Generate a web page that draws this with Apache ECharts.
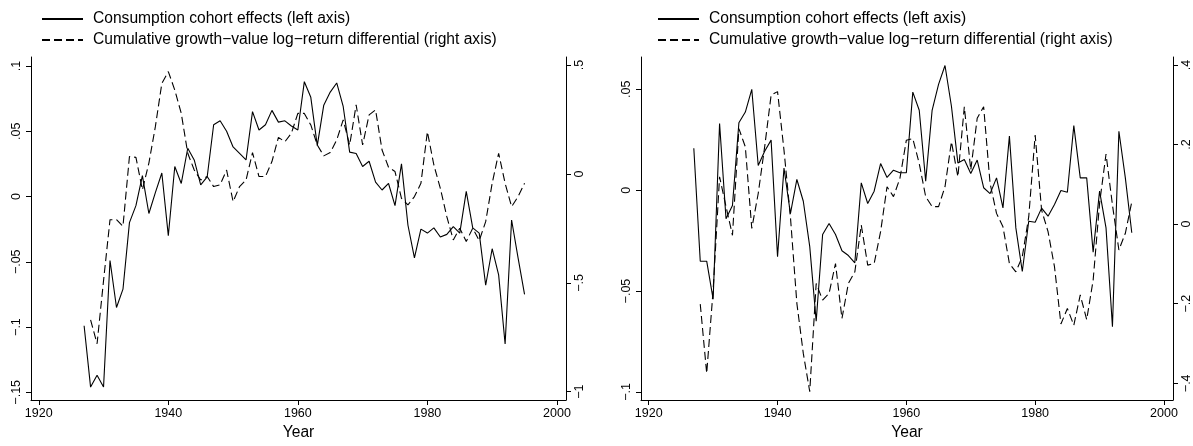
<!DOCTYPE html>
<html>
<head>
<meta charset="utf-8">
<script src="https://cdn.jsdelivr.net/npm/echarts@6/dist/echarts.min.js"></script>
<style>
html,body{margin:0;padding:0;background:#fff;}
#main{width:1193px;height:446px;}
</style>
</head>
<body>
<div id="main"></div>
<script>
// years 1927-1995
var years = [1927,1928,1929,1930,1931,1932,1933,1934,1935,1936,1937,1938,1939,1940,
  1941,1942,1943,1944,1945,1946,1947,1948,1949,1950,1951,1952,1953,1954,1955,1956,
  1957,1958,1959,1960,1961,1962,1963,1964,1965,1966,1967,1968,1969,1970,1971,1972,
  1973,1974,1975,1976,1977,1978,1979,1980,1981,1982,1983,1984,1985,1986,1987,1988,
  1989,1990,1991,1992,1993,1994,1995];

// left panel
var cohortA = [-0.099,-0.146,-0.137,-0.146,-0.049,-0.085,-0.071,-0.020,-0.007,0.016,
  -0.013,0.003,0.018,-0.030,0.023,0.010,0.037,0.028,0.009,0.015,0.055,0.058,0.050,
  0.038,0.033,0.028,0.065,0.051,0.055,0.066,0.057,0.058,0.054,0.051,0.088,0.076,
  0.039,0.070,0.080,0.087,0.069,0.034,0.033,0.023,0.027,0.011,0.005,0.010,-0.007,
  0.025,-0.022,-0.047,-0.025,-0.028,-0.024,-0.031,-0.029,-0.023,-0.028,0.004,-0.024,
  -0.028,-0.068,-0.040,-0.060,-0.113,-0.018,-0.047,-0.075];
var returnA = [null,-0.67,-0.78,-0.49,-0.21,-0.21,-0.24,0.08,0.076,-0.073,0.05,0.217,
  0.416,0.47,0.385,0.278,0.095,0.018,-0.028,-0.012,-0.058,-0.05,0.018,-0.127,-0.058,
  -0.028,0.098,-0.012,-0.012,0.057,0.168,0.148,0.187,0.278,0.278,0.225,0.133,0.083,
  0.098,0.156,0.248,0.133,0.317,0.133,0.271,0.294,0.110,0.031,0.011,-0.112,-0.142,
  -0.104,-0.043,0.194,0.041,-0.066,-0.196,-0.303,-0.249,-0.310,-0.249,-0.306,-0.219,
  -0.043,0.095,-0.043,-0.150,-0.104,-0.043];

// right panel
var cohortB = [0.0208,-0.0352,-0.0352,-0.054,0.033,-0.0142,-0.0076,0.0334,0.0387,0.050,
  0.0122,0.0193,0.0248,-0.033,0.011,-0.0116,0.0053,-0.0055,-0.028,-0.065,-0.022,-0.0165,
  -0.022,-0.030,-0.0324,-0.036,0.0036,-0.0066,-0.0005,0.0132,0.0063,0.0099,0.0086,0.0086,
  0.0486,0.0396,0.0045,0.0396,0.0524,0.0618,0.0416,0.0135,0.0152,0.0083,0.0149,0.0012,
  -0.0017,0.0061,-0.0088,0.0268,-0.0187,-0.0403,-0.0154,-0.0159,-0.0089,-0.0129,-0.0071,
  -0.0002,-0.001,0.032,0.0061,0.0061,-0.0307,-0.0005,-0.0187,-0.0677,0.0292,0.0061,-0.0211];
var returnB = [null,-0.201,-0.375,-0.166,0.119,0.044,-0.028,0.240,0.194,-0.011,0.077,0.194,
  0.324,0.333,0.186,0.018,-0.199,-0.325,-0.421,-0.149,-0.191,-0.174,-0.099,-0.237,-0.149,
  -0.120,-0.0025,-0.103,-0.099,-0.019,0.094,0.069,0.115,0.211,0.215,0.152,0.069,0.044,
  0.044,0.094,0.207,0.119,0.295,0.136,0.266,0.295,0.102,0.027,-0.0067,-0.099,-0.120,
  -0.082,0.018,0.224,0.035,-0.019,-0.107,-0.251,-0.212,-0.254,-0.178,-0.240,-0.141,
  0.052,0.176,0.048,-0.065,-0.023,0.056];

var yearTicks = [1920,1940,1960,1980,2000];
var leftTicksA = [-0.15,-0.1,-0.05,0,0.05,0.1];
var rightTicksA = [-1,-0.5,0,0.5];
var leftTicksB = [-0.1,-0.05,0,0.05];
var rightTicksB = [-0.4,-0.2,0,0.2,0.4];

var nameCohort = 'Consumption cohort effects (left axis)';
var nameReturn = 'Cumulative growth\u2212value log\u2212return differential (right axis)';

var FONT = '"Liberation Sans", Arial, Helvetica, sans-serif';
var NARROW = '"Liberation Sans Narrow", "Arial Narrow", "Liberation Sans", Arial, sans-serif';

function pairs(xs, ys){
  var out = [];
  for (var i = 0; i < xs.length; i++) out.push([xs[i], ys[i]]);
  return out;
}
// stata style: .05, -.1, 0
function stataFmt(v){
  var r = Math.round(v * 1000) / 1000;
  if (r === 0) return '0';
  var s = Math.abs(r).toString().replace(/^0\./, '.');
  return (r < 0 ? '\u2212' : '') + s;
}

var chart = echarts.init(document.getElementById('main'));

function xAx(idx){
  return {
    type: 'value', gridIndex: idx, min: 1918.8, max: 2001.4,
    name: 'Year', nameLocation: 'middle', nameGap: 23,
    nameTextStyle: {fontFamily: FONT, fontSize: 15.6, color: '#000'},
    axisLine: {onZero: false, lineStyle: {color: '#000', width: 1}},
    axisTick: {show: true, length: 5, customValues: yearTicks, lineStyle: {color: '#000'}},
    axisLabel: {customValues: yearTicks, fontFamily: NARROW, fontSize: 12.5, color: '#000', margin: 7,
      formatter: function(v){ return String(Math.round(v)); }},
    splitLine: {show: false}
  };
}
function yAx(idx, pos, mn, mx, ticks){
  return {
    type: 'value', gridIndex: idx, position: pos, min: mn, max: mx,
    axisLine: {show: true, onZero: false, lineStyle: {color: '#000', width: 1}},
    axisTick: {show: true, length: 5, customValues: ticks, lineStyle: {color: '#000'}},
    axisLabel: {customValues: ticks, rotate: 90, fontFamily: NARROW, fontSize: 12.5, color: '#000',
      margin: pos === 'left' ? 8 : 7, formatter: stataFmt},
    splitLine: {show: false}
  };
}
function legendAt(left){
  return {
    orient: 'vertical', left: left, top: 6, itemWidth: 41, itemHeight: 14, itemGap: 5,
    selectedMode: false,
    itemStyle: {opacity: 0},
    textStyle: {fontFamily: FONT, fontSize: 15.6, color: '#000', padding: [0, 0, 0, 5]},
    data: [nameCohort, nameReturn]
  };
}
function lineSeries(name, xi, yi, data, dashed){
  return {
    name: name, type: 'line', xAxisIndex: xi, yAxisIndex: yi, data: data,
    symbol: 'none', connectNulls: false,
    lineStyle: {color: '#000', width: 1.1, type: dashed ? [8, 4] : 'solid'},
    itemStyle: {color: '#000'}
  };
}

chart.setOption({
  backgroundColor: '#fff',
  animation: false,
  legend: [legendAt(36), legendAt(652)],
  grid: [
    {left: 31, right: 627, top: 57, bottom: 46},
    {left: 641, right: 18, top: 57, bottom: 46}
  ],
  xAxis: [xAx(0), xAx(1)],
  yAxis: [
    yAx(0, 'left', -0.1559, 0.1069, leftTicksA),
    yAx(0, 'right', -1.038, 0.537, rightTicksA),
    yAx(1, 'left', -0.104, 0.066, leftTicksB),
    yAx(1, 'right', -0.442, 0.42, rightTicksB)
  ],
  series: [
    lineSeries(nameCohort, 0, 0, pairs(years, cohortA), false),
    lineSeries(nameReturn, 0, 1, pairs(years, returnA), true),
    lineSeries(nameCohort, 1, 2, pairs(years, cohortB), false),
    lineSeries(nameReturn, 1, 3, pairs(years, returnB), true)
  ]
});
</script>
</body>
</html>
